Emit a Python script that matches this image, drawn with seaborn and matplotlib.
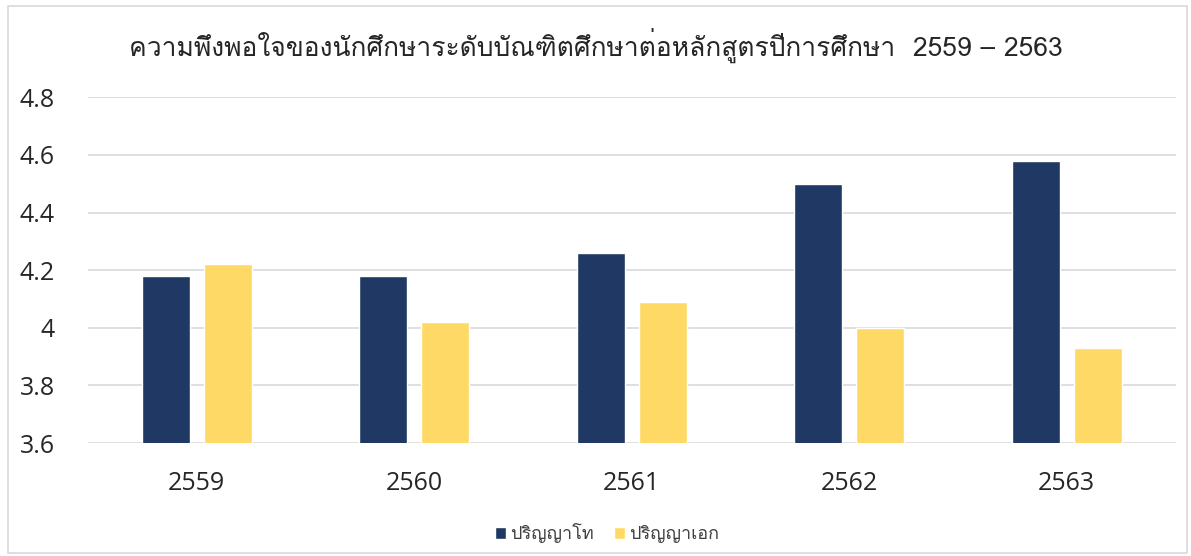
import matplotlib
matplotlib.use("Agg")
import matplotlib.pyplot as plt
from matplotlib import font_manager
from matplotlib.ft2font import FT2Font
import seaborn as sns
import pandas as pd

# ข้อมูล
years = ["2559", "2560", "2561", "2562", "2563"]
master = [4.18, 4.18, 4.26, 4.50, 4.58]
doctor = [4.22, 4.02, 4.09, 4.00, 3.93]
series_names = ["ปริญญาโท", "ปริญญาเอก"]
y_ticks = [3.6, 3.8, 4.0, 4.2, 4.4, 4.6, 4.8]
y_tick_labels = ["3.6", "3.8", "4", "4.2", "4.4", "4.6", "4.8"]
title = "ความพึงพอใจของนักศึกษาระดับบัณฑิตศึกษาต่อหลักสูตรปีการศึกษา  2559 – 2563"

df = pd.DataFrame({
    "year": years * 2,
    "score": master + doctor,
    "level": [series_names[0]] * len(years) + [series_names[1]] * len(years),
})

# หาฟอนต์ที่มีอักษรไทย
thai_font = None
for f in font_manager.fontManager.ttflist:
    try:
        if 0x0E01 in FT2Font(f.fname).get_charmap():
            thai_font = f.name
            break
    except Exception:
        pass

sns.set_style("white")
thai = [thai_font] if thai_font else []
plt.rcParams["font.family"] = ["Open Sans"] + thai + ["DejaVu Sans"]

fig = plt.figure(figsize=(11.91, 5.56), dpi=100)
ax = fig.add_axes([0.074, 0.203, 0.913, 0.622])

sns.barplot(data=df, x="year", y="score", hue="level",
            palette=["#203864", "#FFD966"], width=0.57, gap=0.23,
            saturation=1, ax=ax, zorder=3)

ax.set_ylim(3.6, 4.8)
ax.set_xlim(-0.5, 4.5)
ax.set_yticks(y_ticks)
ax.set_yticklabels(y_tick_labels)
ax.grid(axis="y", color="#d9d9d9", linewidth=1.2, zorder=0)
ax.set_axisbelow(True)
for s in ax.spines.values():
    s.set_visible(False)
ax.tick_params(axis="both", length=0, labelsize=18, colors="#262626")
ax.tick_params(axis="x", pad=20)
ax.tick_params(axis="y", pad=24)
ax.set_xlabel("")
ax.set_ylabel("")

fig.text(0.5, 0.918, title, ha="center", va="center", fontsize=19, color="#262626",
         family=thai + ["DejaVu Sans"])

handles, labels = ax.get_legend_handles_labels()
ax.get_legend().remove()
fig.legend(handles, labels, loc="center", bbox_to_anchor=(0.51, 0.041), ncol=2,
           frameon=False, handlelength=0.6, handleheight=0.6, handletextpad=0.25,
           columnspacing=1.1, labelcolor="#404040",
           prop={"family": thai + ["DejaVu Sans"], "size": 13})

# กรอบของแผนภูมิ
fig.patches.append(plt.Rectangle((0.007, 0.005), 0.99, 0.985, transform=fig.transFigure,
                                 fill=False, edgecolor="#d9d9d9", linewidth=1.2))

fig.savefig("out.png", dpi=100)
